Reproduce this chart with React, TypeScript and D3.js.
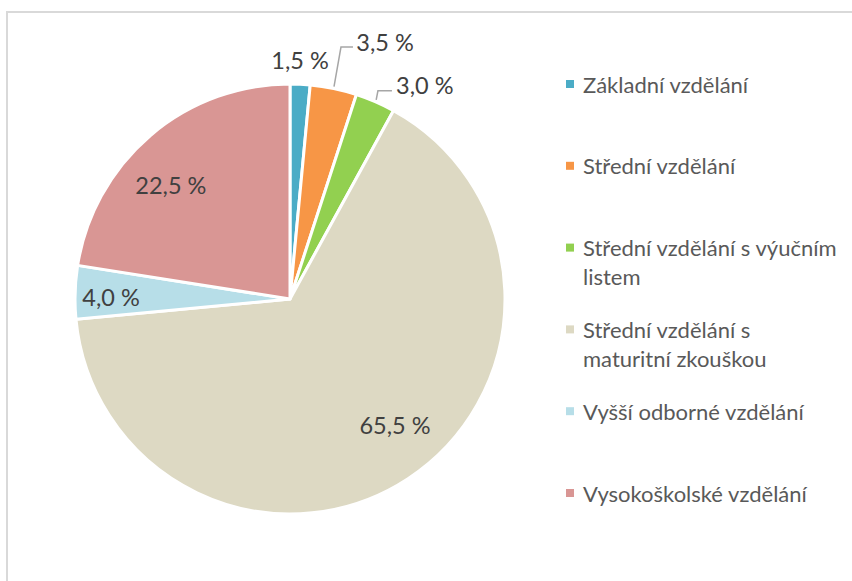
import React from "react";
import * as d3 from "d3";

const categories = [
  "Základní vzdělání",
  "Střední vzdělání",
  "Střední vzdělání s výučním listem",
  "Střední vzdělání s maturitní zkouškou",
  "Vyšší odborné vzdělání",
  "Vysokoškolské vzdělání",
];
const values = [1.5, 3.5, 3.0, 65.5, 4.0, 22.5];
const labels = ["1,5 %", "3,5 %", "3,0 %", "65,5 %", "4,0 %", "22,5 %"];
const legendLines = [
  ["Základní vzdělání"],
  ["Střední vzdělání"],
  ["Střední vzdělání s výučním", "listem"],
  ["Střední vzdělání s", "maturitní zkouškou"],
  ["Vyšší odborné vzdělání"],
  ["Vysokoškolské vzdělání"],
];
const colors = ["#4BACC6", "#F79646", "#92D050", "#DDD9C3", "#B7DEE8", "#D99694"];

// label layout: polar position (deg clockwise from 12 o'clock, distance from centre)
const labelPolar: [number, number][] = [
  [2.4, 239],
  [20.3, 274],
  [32.2, 253],
  [140.2, 164],
  [270.6, 179],
  [313.8, 165],
];
// leader lines: elbow polar and horizontal length
const leaders: ({ elbow: [number, number]; len: number } | null)[] = [
  null,
  { elbow: [11.44, 257], len: 12 },
  { elbow: [22.9, 226], len: 14 },
  null,
  null,
  null,
];

const W = 852;
const H = 581;
const cx = 290;
const cy = 299;
const R = 215;
const FONT = "Lato, 'Open Sans', sans-serif";

function polar(deg: number, r: number): [number, number] {
  const a = (deg * Math.PI) / 180;
  return [cx + r * Math.sin(a), cy - r * Math.cos(a)];
}

export default function App() {
  const pie = d3.pie<number>().sort(null).value((d) => d);
  const arcs = pie(values);
  const arc = d3.arc<d3.PieArcDatum<number>>().innerRadius(0).outerRadius(R);

  const legendY = d3
    .scaleLinear()
    .domain([0, categories.length - 1])
    .range([84, 493]);

  return (
    <svg
      width={W}
      height={H}
      style={{ position: "absolute", left: 0, top: 0, background: "#fff" }}
      fontFamily={FONT}
    >
      <rect x={0} y={0} width={W} height={H} fill="#fff" />
      <path d={`M7,${H} V12 H${W}`} fill="none" stroke="#d9d9d9" strokeWidth={2} />
      <g transform={`translate(${cx},${cy})`}>
        {arcs.map((a, i) => (
          <path key={i} d={arc(a) || ""} fill={colors[i]} stroke="#fff" strokeWidth={3} strokeLinejoin="round" />
        ))}
      </g>
      {arcs.map((a, i) => {
        const ld = leaders[i];
        if (!ld) return null;
        const mid = (((a.startAngle + a.endAngle) / 2) * 180) / Math.PI;
        const [sx, sy] = polar(mid, R + 2);
        const [ex, ey] = polar(ld.elbow[0], ld.elbow[1]);
        return (
          <polyline
            key={"l" + i}
            points={`${sx},${sy} ${ex},${ey} ${ex + ld.len},${ey}`}
            fill="none"
            stroke="#a6a6a6"
            strokeWidth={1.5}
          />
        );
      })}
      {labels.map((t, i) => {
        const [x, y] = polar(labelPolar[i][0], labelPolar[i][1]);
        return (
          <text
            key={"t" + i}
            x={x}
            y={y}
            textAnchor="middle"
            dominantBaseline="central"
            fontSize={23.5}
            fill="#404040"
          >
            {t}
          </text>
        );
      })}
      {categories.map((c, i) => {
        const y = legendY(i);
        return (
          <g key={"g" + i}>
            <rect x={566} y={y - 4} width={8} height={8} fill={colors[i]} />
            {legendLines[i].map((ln, j) => (
              <text
                key={j}
                x={583}
                y={y + j * 29}
                dominantBaseline="central"
                fontSize={22}
                fill="#595959"
              >
                {ln}
              </text>
            ))}
          </g>
        );
      })}
    </svg>
  );
}
